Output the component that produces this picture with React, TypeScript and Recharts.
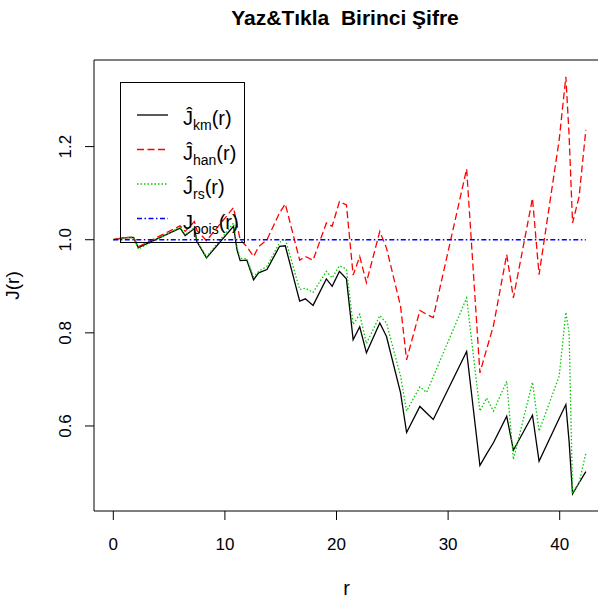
import { LineChart, Line, XAxis, YAxis, ReferenceArea, Legend } from "recharts";

// r grid where the estimates change slope
const rValues = [
  0, 0.9, 1.8, 2.24, 5.99, 6.44, 7.27, 7.49, 8.35, 10.77, 11.08, 11.37, 11.97, 12.57,
  13.02, 13.77, 14.9, 15.41, 16.7, 17.21, 17.9, 19.09, 19.61, 20.26, 20.89, 21.49, 22.08,
  22.68, 23.88, 24.48, 25.74, 26.28, 27.47, 28.07, 28.67, 31.66, 32.85, 33.45, 34.06,
  35.25, 35.85, 37.56, 38.15, 39.95, 40.55, 40.84, 41.15, 41.74, 42.34,
];

// Kaplan-Meier estimate
const jKm = [
  1.0, 1.004, 1.005, 0.983, 1.025, 1.009, 1.024, 0.996, 0.961, 1.029, 0.979, 0.955, 0.956,
  0.914, 0.929, 0.936, 0.986, 0.987, 0.868, 0.873, 0.859, 0.916, 0.9, 0.932, 0.916, 0.785,
  0.813, 0.757, 0.821, 0.792, 0.671, 0.586, 0.642, 0.628, 0.614, 0.76, 0.515, 0.54, 0.564,
  0.621, 0.548, 0.623, 0.524, 0.616, 0.646, 0.567, 0.454, 0.478, 0.502,
];

// Hanisch estimate
const jHan = [
  1.0, 1.004, 1.006, 0.985, 1.03, 1.018, 1.039, 1.02, 0.998, 1.069, 1.033, 1.0, 0.985,
  0.964, 0.985, 1.0, 1.058, 1.077, 0.956, 0.964, 0.956, 1.036, 1.029, 1.082, 1.075, 0.924,
  0.964, 0.908, 1.018, 0.982, 0.857, 0.742, 0.848, 0.84, 0.833, 1.152, 0.714, 0.765, 0.815,
  0.968, 0.875, 1.089, 0.925, 1.214, 1.35, 1.225, 1.036, 1.093, 1.236,
];

// reduced sample estimate
const jRs = [
  1.0, 1.004, 1.006, 0.98, 1.027, 1.011, 1.026, 0.998, 0.963, 1.036, 0.985, 0.96, 0.959,
  0.92, 0.932, 0.943, 0.994, 1.002, 0.893, 0.896, 0.887, 0.932, 0.918, 0.944, 0.937, 0.818,
  0.84, 0.777, 0.837, 0.821, 0.707, 0.632, 0.684, 0.672, 0.706, 0.875, 0.632, 0.66, 0.632,
  0.696, 0.528, 0.694, 0.589, 0.707, 0.844, 0.8, 0.456, 0.478, 0.541,
];

// theoretical Poisson value
const poisR = [0, 42.34];
const poisJ = [1, 1];

const xTicks = [0, 10, 20, 30, 40];
const yTicks = [0.6, 0.8, 1.0, 1.2];

const X_DOMAIN: [number, number] = [-1.73, 43.52];
const Y_DOMAIN: [number, number] = [0.4174, 1.386];

const FONT = "'Liberation Sans', Arial, sans-serif";

const rows = rValues.map((r, i) => ({ r, km: jKm[i], han: jHan[i], rs: jRs[i] }));
const poisRows = poisR.map((r, i) => ({ r, pois: poisJ[i] }));

const legendItems = [
  { sub: "km", hat: true, color: "#000000", dash: undefined },
  { sub: "han", hat: true, color: "#ff0000", dash: "7 3.5" },
  { sub: "rs", hat: true, color: "#00cc00", dash: "1.5 2" },
  { sub: "pois", hat: false, color: "#0000ff", dash: "5 2.5 1.5 2.5" },
];

function LegendBox() {
  return (
    <svg width={126} height={162} style={{ display: "block" }}>
      <rect x={0.5} y={0.5} width={124} height={160} fill="none" stroke="#000" />
      {legendItems.map((it, i) => {
        const ly = 33 + i * 34.5;
        return (
          <g key={it.sub}>
            <line x1={17} x2={48} y1={ly} y2={ly} stroke={it.color} strokeWidth={1.3} strokeDasharray={it.dash} />
            <text x={63} y={ly + 10} fontSize={20} fontFamily={FONT} fill="#000">
              {it.hat ? "Ĵ" : "J"}
              <tspan fontSize={14} dy={5}>{it.sub}</tspan>
              <tspan dy={-5}>(r)</tspan>
            </text>
          </g>
        );
      })}
    </svg>
  );
}

function YTick(props: any) {
  const { x, y, payload } = props;
  return (
    <text
      x={x}
      y={y}
      transform={`rotate(-90 ${x} ${y})`}
      textAnchor="middle"
      fontSize={17}
      fontFamily={FONT}
      fill="#000"
    >
      {Number(payload.value).toFixed(1)}
    </text>
  );
}

export default function App() {
  return (
    <div
      style={{
        position: "absolute",
        left: 0,
        top: 0,
        width: 598,
        height: 599,
        overflow: "hidden",
        background: "#fff",
      }}
    >
      <div
        style={{
          position: "absolute",
          left: 345,
          top: 7,
          transform: "translateX(-50%)",
          whiteSpace: "pre",
          fontFamily: FONT,
          fontWeight: "bold",
          fontSize: 21,
          lineHeight: "21px",
          color: "#000",
          zIndex: 2,
        }}
      >
        Yaz&amp;Tıkla  Birinci Şifre
      </div>
      <LineChart
        width={620}
        height={599}
        data={rows}
        margin={{ top: 60, right: 21, bottom: 48, left: 34 }}
      >
        <XAxis
          dataKey="r"
          type="number"
          domain={X_DOMAIN}
          allowDataOverflow
          ticks={xTicks}
          height={40}
          tickSize={9}
          tickMargin={18}
          axisLine={false}
          tickLine={{ stroke: "#000" }}
          tick={{ fontSize: 17, fontFamily: FONT, fill: "#000" }}
          label={(p: any) => {
            const vb = p.viewBox;
            return (
              <text
                x={vb.x + vb.width / 2}
                y={595}
                textAnchor="middle"
                fontSize={20}
                fontFamily={FONT}
                fill="#000"
              >
                r
              </text>
            );
          }}
        />
        <YAxis
          type="number"
          domain={Y_DOMAIN}
          allowDataOverflow
          ticks={yTicks}
          width={60}
          tickSize={9}
          tickMargin={14}
          axisLine={false}
          tickLine={{ stroke: "#000" }}
          tick={YTick}
          label={(p: any) => {
            const vb = p.viewBox;
            const cy = vb.y + vb.height / 2;
            return (
              <text
                x={19}
                y={cy}
                transform={`rotate(-90 19 ${cy})`}
                textAnchor="middle"
                fontSize={19}
                fontFamily={FONT}
                fill="#000"
              >
                J(r)
              </text>
            );
          }}
        />
        <ReferenceArea
          x1={X_DOMAIN[0]}
          x2={X_DOMAIN[1]}
          y1={Y_DOMAIN[0]}
          y2={Y_DOMAIN[1]}
          fill="none"
          fillOpacity={0}
          stroke="#000"
          strokeWidth={1}
        />
        <Line dataKey="km" stroke="#000000" strokeWidth={1.3} dot={false} isAnimationActive={false} />
        <Line dataKey="han" stroke="#ff0000" strokeWidth={1.3} strokeDasharray="7 3.5" dot={false} isAnimationActive={false} />
        <Line dataKey="rs" stroke="#00cc00" strokeWidth={1.3} strokeDasharray="1.5 2" dot={false} isAnimationActive={false} />
        <Line
          data={poisRows}
          dataKey="pois"
          stroke="#0000ff"
          strokeWidth={1.3}
          strokeDasharray="5 2.5 1.5 2.5"
          dot={false}
          isAnimationActive={false}
        />
        <Legend
          layout="vertical"
          align="center"
          verticalAlign="middle"
          wrapperStyle={{ left: 120, top: 82, width: 126, height: 162 }}
          content={() => <LegendBox />}
        />
      </LineChart>
    </div>
  );
}
